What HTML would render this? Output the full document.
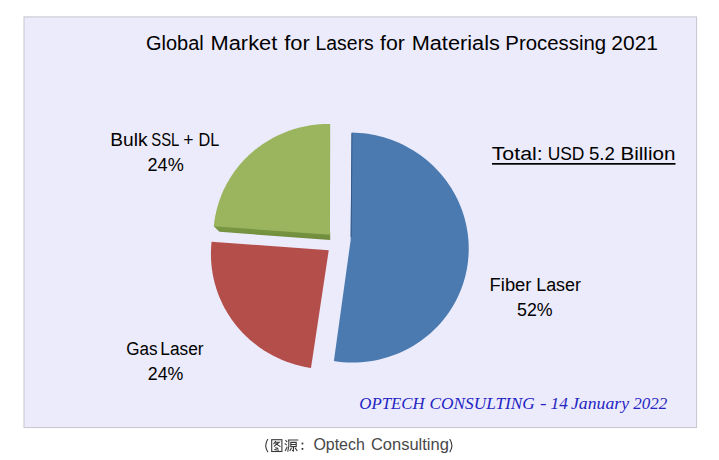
<!DOCTYPE html>
<html><head><meta charset="utf-8"><style>html,body{margin:0;padding:0;background:#fff;overflow:hidden}svg{display:block}</style></head>
<body><svg width="719" height="460" viewBox="0 0 719 460">
<rect x="24" y="16.9" width="672.6" height="410.7" fill="#ecebfb" stroke="#c6c5cf" stroke-width="1"/>
<defs><linearGradient id="sg" x1="0" y1="0" x2="0" y2="1"><stop offset="0" stop-color="#7d9b46"/><stop offset="1" stop-color="#6f8b3b"/></linearGradient></defs><path d="M216,224 L330.2,232.2 L330.2,240.1 L219.4,231.8 L213.8,226.2 Z" fill="url(#sg)"/>
<path d="M350.63,240.33 L351.60,132.56 L355.65,132.67 L359.69,132.92 L363.72,133.31 L367.74,133.83 L371.75,134.49 L375.73,135.29 L379.69,136.22 L383.61,137.28 L387.50,138.47 L391.35,139.80 L395.15,141.26 L398.91,142.85 L402.61,144.57 L406.26,146.41 L409.84,148.38 L413.36,150.48 L416.81,152.69 L420.18,155.03 L423.47,157.48 L426.68,160.05 L429.80,162.73 L432.83,165.52 L435.76,168.41 L438.59,171.41 L441.32,174.52 L443.94,177.72 L446.45,181.01 L448.84,184.40 L451.11,187.87 L453.26,191.43 L455.28,195.06 L457.18,198.78 L458.94,202.56 L460.56,206.41 L462.04,210.32 L463.39,214.29 L464.58,218.32 L465.64,222.39 L466.54,226.50 L467.28,230.65 L467.88,234.84 L468.32,239.05 L468.60,243.28 L468.72,247.53 L468.68,251.79 L468.48,256.05 L468.11,260.31 L467.59,264.56 L466.90,268.80 L466.05,273.02 L465.03,277.21 L463.85,281.37 L462.51,285.49 L461.01,289.56 L459.34,293.58 L457.52,297.54 L455.54,301.44 L453.41,305.27 L451.12,309.03 L448.69,312.69 L446.11,316.27 L443.38,319.76 L440.51,323.15 L437.51,326.42 L434.37,329.59 L431.11,332.64 L427.72,335.56 L424.22,338.36 L420.60,341.03 L416.87,343.56 L413.04,345.94 L409.11,348.18 L405.09,350.27 L400.99,352.20 L396.80,353.98 L392.55,355.60 L388.23,357.05 L383.85,358.34 L379.42,359.46 L374.95,360.41 L370.43,361.18 L365.89,361.78 L361.33,362.21 L356.75,362.46 L352.17,362.54 L347.58,362.44 L343.00,362.17 L338.43,361.72 L333.89,361.09Z" fill="#4a7ab0"/>
<path d="M328.75,250.20 L310.99,367.95 L308.96,367.63 L306.94,367.28 L304.92,366.89 L302.92,366.47 L300.92,366.02 L298.93,365.53 L296.95,365.01 L294.98,364.45 L293.02,363.86 L291.07,363.24 L289.14,362.59 L287.22,361.90 L285.31,361.18 L283.42,360.43 L281.54,359.65 L279.67,358.84 L277.82,357.99 L275.99,357.12 L274.17,356.21 L272.37,355.28 L270.59,354.31 L268.82,353.32 L267.08,352.29 L265.35,351.24 L263.65,350.15 L261.96,349.04 L260.29,347.91 L258.65,346.74 L257.03,345.55 L255.43,344.33 L253.85,343.08 L252.29,341.81 L250.76,340.51 L249.25,339.19 L247.77,337.84 L246.31,336.47 L244.87,335.07 L243.47,333.65 L242.08,332.21 L240.73,330.74 L239.39,329.26 L238.09,327.75 L236.81,326.22 L235.57,324.67 L234.34,323.10 L233.15,321.51 L231.99,319.90 L230.85,318.27 L229.75,316.62 L228.67,314.96 L227.62,313.28 L226.60,311.58 L225.62,309.86 L224.66,308.13 L223.74,306.39 L222.84,304.63 L221.98,302.85 L221.14,301.07 L220.34,299.26 L219.57,297.45 L218.84,295.63 L218.13,293.79 L217.46,291.94 L216.82,290.08 L216.21,288.21 L215.63,286.34 L215.09,284.45 L214.58,282.55 L214.11,280.65 L213.66,278.74 L213.25,276.83 L212.88,274.90 L212.53,272.98 L212.22,271.04 L211.94,269.11 L211.70,267.17 L211.49,265.22 L211.31,263.28 L211.17,261.33 L211.06,259.38 L210.99,257.42 L210.94,255.47 L210.94,253.52 L210.96,251.57 L211.02,249.61 L211.11,247.67 L211.23,245.72 L211.39,243.77 L211.58,241.83Z" fill="#b44e4a"/>
<path d="M329.99,234.76 L213.81,226.18 L214.01,224.27 L214.25,222.36 L214.51,220.45 L214.81,218.55 L215.14,216.65 L215.51,214.77 L215.91,212.89 L216.33,211.02 L216.80,209.15 L217.29,207.30 L217.81,205.45 L218.37,203.62 L218.96,201.79 L219.58,199.98 L220.22,198.18 L220.90,196.39 L221.62,194.62 L222.36,192.85 L223.13,191.10 L223.93,189.37 L224.76,187.64 L225.61,185.94 L226.50,184.25 L227.42,182.57 L228.36,180.91 L229.34,179.27 L230.34,177.64 L231.36,176.03 L232.42,174.44 L233.50,172.87 L234.61,171.32 L235.74,169.79 L236.90,168.27 L238.08,166.78 L239.29,165.30 L240.53,163.85 L241.79,162.42 L243.07,161.01 L244.38,159.62 L245.71,158.25 L247.06,156.91 L248.43,155.59 L249.83,154.29 L251.25,153.01 L252.69,151.76 L254.15,150.54 L255.63,149.33 L257.13,148.16 L258.65,147.01 L260.19,145.88 L261.75,144.78 L263.32,143.70 L264.92,142.65 L266.53,141.63 L268.16,140.63 L269.80,139.66 L271.46,138.72 L273.14,137.81 L274.83,136.92 L276.53,136.06 L278.25,135.23 L279.99,134.43 L281.74,133.65 L283.50,132.91 L285.27,132.19 L287.05,131.50 L288.85,130.84 L290.65,130.21 L292.47,129.61 L294.30,129.04 L296.13,128.50 L297.98,127.99 L299.83,127.51 L301.69,127.06 L303.56,126.64 L305.44,126.25 L307.32,125.89 L309.20,125.56 L311.10,125.26 L313.00,124.99 L314.90,124.75 L316.81,124.55 L318.72,124.37 L320.63,124.23 L322.54,124.11 L324.46,124.03 L326.38,123.98 L328.30,123.95 L330.22,123.96Z" fill="#9bb55f"/>
<path d="M351.95,133.2 L351.15,237" stroke="#34598a" stroke-width="1" fill="none"/>
<text x="146.00" y="50.00" font-size="20" textLength="57.77" lengthAdjust="spacingAndGlyphs" font-family="'Liberation Sans', sans-serif" fill="#000">Global</text>
<text x="210.50" y="50.00" font-size="20" textLength="66.80" lengthAdjust="spacingAndGlyphs" font-family="'Liberation Sans', sans-serif" fill="#000">Market</text>
<text x="284.25" y="50.00" font-size="20" textLength="25.60" lengthAdjust="spacingAndGlyphs" font-family="'Liberation Sans', sans-serif" fill="#000">for</text>
<text x="315.50" y="50.00" font-size="20" textLength="58.34" lengthAdjust="spacingAndGlyphs" font-family="'Liberation Sans', sans-serif" fill="#000">Lasers</text>
<text x="380.00" y="50.00" font-size="20" textLength="24.83" lengthAdjust="spacingAndGlyphs" font-family="'Liberation Sans', sans-serif" fill="#000">for</text>
<text x="411.70" y="50.00" font-size="20" textLength="88.16" lengthAdjust="spacingAndGlyphs" font-family="'Liberation Sans', sans-serif" fill="#000">Materials</text>
<text x="505.30" y="50.00" font-size="20" textLength="100.79" lengthAdjust="spacingAndGlyphs" font-family="'Liberation Sans', sans-serif" fill="#000">Processing</text>
<text x="611.30" y="50.00" font-size="20" textLength="46.71" lengthAdjust="spacingAndGlyphs" font-family="'Liberation Sans', sans-serif" fill="#000">2021</text>
<text x="110.25" y="145.60" font-size="18" textLength="37.24" lengthAdjust="spacingAndGlyphs" font-family="'Liberation Sans', sans-serif" fill="#000">Bulk</text>
<text x="151.25" y="145.60" font-size="18" textLength="28.16" lengthAdjust="spacingAndGlyphs" font-family="'Liberation Sans', sans-serif" fill="#000">SSL</text>
<text x="183.25" y="145.60" font-size="18" textLength="10.23" lengthAdjust="spacingAndGlyphs" font-family="'Liberation Sans', sans-serif" fill="#000">+</text>
<text x="198.60" y="145.60" font-size="18" textLength="20.76" lengthAdjust="spacingAndGlyphs" font-family="'Liberation Sans', sans-serif" fill="#000">DL</text>
<text x="147.50" y="170.60" font-size="18" textLength="36.22" lengthAdjust="spacingAndGlyphs" font-family="'Liberation Sans', sans-serif" fill="#000">24%</text>
<text x="491.70" y="160.00" font-size="18" textLength="51.06" lengthAdjust="spacingAndGlyphs" font-family="'Liberation Sans', sans-serif" fill="#000">Total:</text>
<text x="547.65" y="160.00" font-size="18" textLength="36.80" lengthAdjust="spacingAndGlyphs" font-family="'Liberation Sans', sans-serif" fill="#000">USD</text>
<text x="589.00" y="160.00" font-size="18" textLength="25.91" lengthAdjust="spacingAndGlyphs" font-family="'Liberation Sans', sans-serif" fill="#000">5.2</text>
<text x="620.40" y="160.00" font-size="18" textLength="55.04" lengthAdjust="spacingAndGlyphs" font-family="'Liberation Sans', sans-serif" fill="#000">Billion</text>
<text x="489.60" y="290.80" font-size="18" textLength="41.83" lengthAdjust="spacingAndGlyphs" font-family="'Liberation Sans', sans-serif" fill="#000">Fiber</text>
<text x="536.20" y="290.80" font-size="18" textLength="44.77" lengthAdjust="spacingAndGlyphs" font-family="'Liberation Sans', sans-serif" fill="#000">Laser</text>
<text x="517.00" y="315.80" font-size="18" textLength="35.57" lengthAdjust="spacingAndGlyphs" font-family="'Liberation Sans', sans-serif" fill="#000">52%</text>
<text x="126.30" y="355.00" font-size="18" textLength="31.30" lengthAdjust="spacingAndGlyphs" font-family="'Liberation Sans', sans-serif" fill="#000">Gas</text>
<text x="160.30" y="355.00" font-size="18" textLength="43.28" lengthAdjust="spacingAndGlyphs" font-family="'Liberation Sans', sans-serif" fill="#000">Laser</text>
<text x="147.80" y="380.00" font-size="18" textLength="35.63" lengthAdjust="spacingAndGlyphs" font-family="'Liberation Sans', sans-serif" fill="#000">24%</text>
<text x="359.30" y="408.50" font-size="16" textLength="65.22" lengthAdjust="spacingAndGlyphs" font-family="'Liberation Serif', serif" font-style="italic" fill="#2424c4">OPTECH</text>
<text x="429.60" y="408.50" font-size="16" textLength="105.16" lengthAdjust="spacingAndGlyphs" font-family="'Liberation Serif', serif" font-style="italic" fill="#2424c4">CONSULTING</text>
<text x="540.00" y="408.50" font-size="16" textLength="6.52" lengthAdjust="spacingAndGlyphs" font-family="'Liberation Serif', serif" font-style="italic" fill="#2424c4">-</text>
<text x="550.60" y="408.50" font-size="16" textLength="17.31" lengthAdjust="spacingAndGlyphs" font-family="'Liberation Serif', serif" font-style="italic" fill="#2424c4">14</text>
<text x="571.00" y="408.50" font-size="16" textLength="58.02" lengthAdjust="spacingAndGlyphs" font-family="'Liberation Serif', serif" font-style="italic" fill="#2424c4">January</text>
<text x="633.30" y="408.50" font-size="16" textLength="34.03" lengthAdjust="spacingAndGlyphs" font-family="'Liberation Serif', serif" font-style="italic" fill="#2424c4">2022</text>
<text x="313.40" y="450.20" font-size="16" textLength="51.44" lengthAdjust="spacingAndGlyphs" font-family="'Liberation Sans', sans-serif" fill="#474747">Optech</text>
<text x="370.90" y="450.20" font-size="16" textLength="78.00" lengthAdjust="spacingAndGlyphs" font-family="'Liberation Sans', sans-serif" fill="#474747">Consulting</text>
<rect x="492" y="163" width="183.5" height="1.7" fill="#000"/>
<g fill="none" stroke="#383838" stroke-width="1.1" stroke-linecap="square">
<path d="M267.9,439 Q263.6,445.5 267.9,452.2 M449.7,439 Q454,445.5 449.7,452.2" stroke-width="1.1" stroke-linecap="butt"/>
<g transform="translate(271.2,439.2)">
<rect x="0.5" y="0.5" width="10.2" height="11.8"/>
<path d="M4.2,2.2 L2.6,4.6 M4,3 L8,3 L3.2,7 M4.6,4.6 L8.8,7.2 M4.6,8.6 L6.6,9.2 M3.6,10.4 L7.2,11"/>
</g>
<g transform="translate(284.6,439)">
<path d="M1.2,1.6 L2.2,2.6 M0.6,4.8 L1.8,5.8 M0.8,11.6 L2.4,8.2 M3.8,1 L13.2,1 M4.2,1 L4.2,7.5 L3.2,12 M6.2,3.4 L11.6,3.4 L11.6,7.6 L6.2,7.6 Z M6.2,5.5 L11.6,5.5 M8.8,7.6 L8.8,12 L8,11.6 M6.6,9.4 L5.4,11.4 M10.8,9.4 L12.4,11.4"/>
</g>
<rect x="301.6" y="442.6" width="1.7" height="1.8" fill="#333" stroke="none"/><rect x="301.6" y="448" width="1.7" height="1.8" fill="#333" stroke="none"/></g>
</svg></body></html>
